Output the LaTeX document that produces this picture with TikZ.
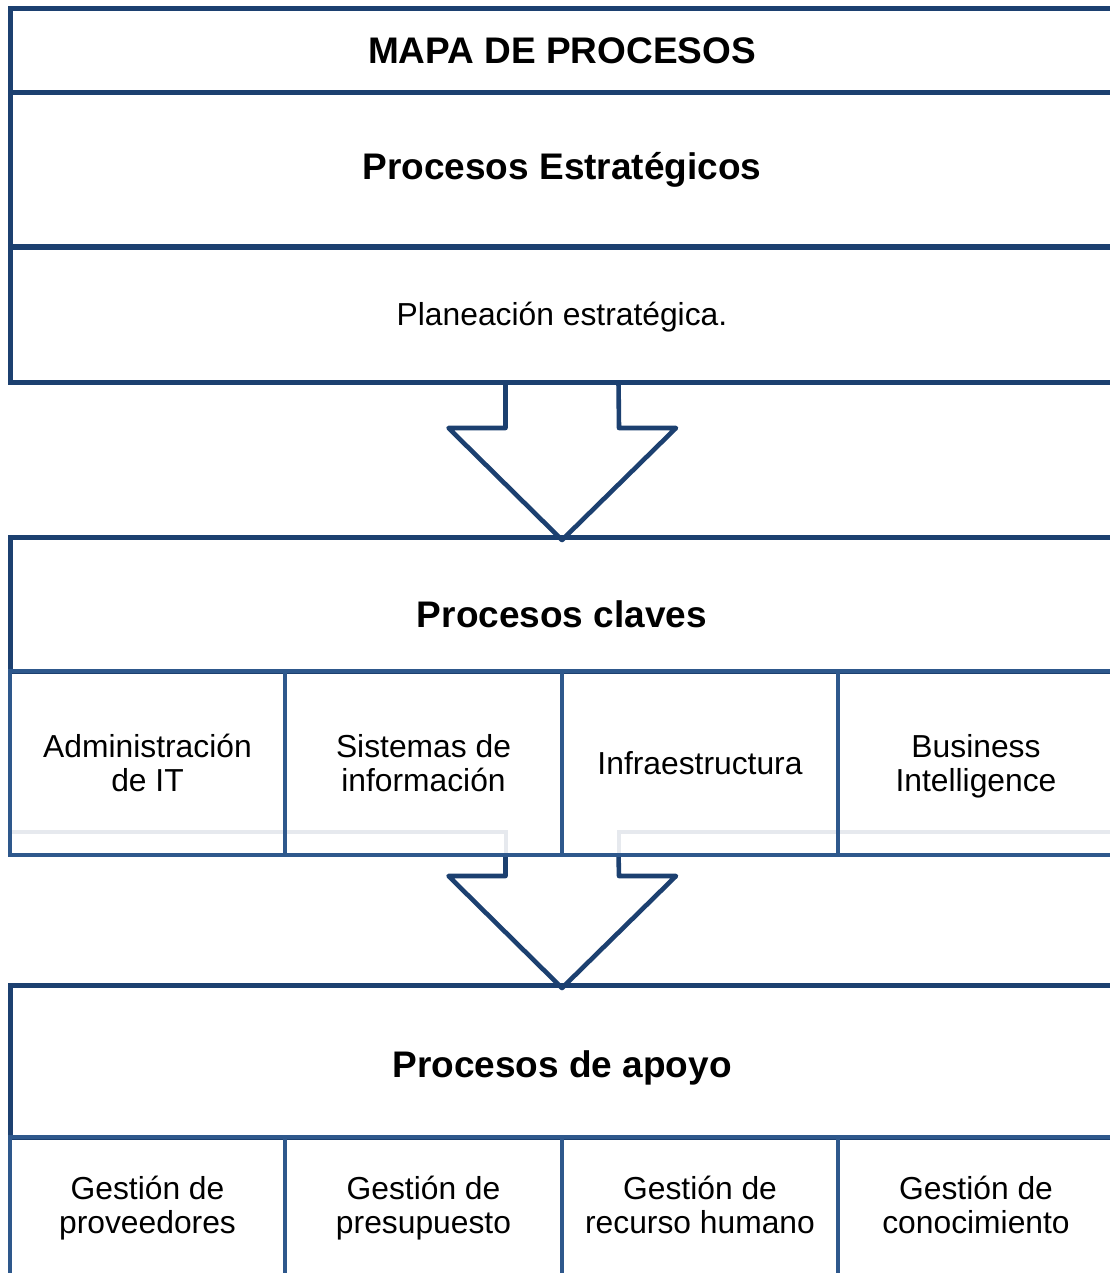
\documentclass[tikz,border=0pt]{standalone}
\usepackage{fontspec}
\setmainfont{Liberation Sans}
\usepackage{tikz}
\usetikzlibrary{positioning}
\definecolor{mapblue}{HTML}{1C4070}
\definecolor{cellblue}{HTML}{2E588C}
\definecolor{ghostgray}{HTML}{E6E9EE}

\begin{document}
\begin{tikzpicture}[x=0.5pt, y=-0.5pt,
    band/.style={rectangle, draw=mapblue, line width=2.5pt, minimum width=552pt, inner sep=0pt, outer sep=0pt, align=center, font=\fontsize{18.5}{22}\selectfont\bfseries},
    plain/.style={band, font=\fontsize{15.9}{17}\selectfont},
    cell/.style={rectangle, draw=cellblue, line width=2pt, minimum height=92pt, inner sep=0pt, outer sep=0pt, align=center, font=\fontsize{15.9}{17}\selectfont,
        execute at end node={\rule[-0.4pt]{0pt}{0.4pt}}},
    lowcell/.style={cell, minimum height=75pt, execute at end node={\rule[-7.5pt]{0pt}{7.5pt}}},
    blockarrow/.style={draw=mapblue, fill=white, line width=2.3pt, line join=round}
]
    \useasboundingbox (0,0) rectangle (1109,1273);

    % faint line behind the key processes
    \draw[ghostgray, line width=2pt] (10,832) -- (506,832) -- (506,855);
    \draw[ghostgray, line width=2pt] (619,855) -- (619,832) -- (1115,832);

    % block arrows (drawn first, the box lines go over them)
    \coordinate (stemA) at (562,382);
    \coordinate (tipA) at (562,540);
    \coordinate (stemB) at (562,855);
    \coordinate (tipB) at (562,988);
    \draw[blockarrow] ([xshift=-28.25pt]stemA) -- ++(0,46) -- ++(-57,0)
        -- (tipA) -- ++(114,-112) -- ++(-57,0) -- ([xshift=28.25pt]stemA);
    \draw[blockarrow] ([xshift=-28.25pt]stemB) -- ++(0,21) -- ++(-57,0)
        -- (tipB) -- ++(114,-112) -- ++(-57,0) -- ([xshift=28.25pt]stemB);

    \node[band, anchor=north west, minimum height=42pt] (title) at (10,9) {MAPA DE PROCESOS};
    \node[band, below=0pt of title, minimum height=77pt] (estrat) {Procesos Estratégicos};
    \node[plain, below=0pt of estrat, minimum height=67.5pt] (plan) {\raisebox{-1.5pt}[\height][\depth]{Planeación estratégica.}};

    \node[band, anchor=north west, minimum height=67pt] (claves) at (10,537) {\raisebox{-5pt}[\height][\depth]{Procesos claves}};
    \node[cell, anchor=north west, minimum width=137.5pt] (admin) at (claves.south west) {Administración\\de IT};
    \node[cell, right=0pt of admin, minimum width=138.5pt] (sis) {Sistemas de\\información};
    \node[cell, right=0pt of sis, minimum width=138pt] (infra) {Infraestructura};
    \node[cell, right=0pt of infra, minimum width=138pt] (bi) {Business\\\raisebox{0pt}[\height][0pt]{Intelligence}};

    \node[band, anchor=north west, minimum height=76pt] (apoyo) at (10,985) {\raisebox{-3.5pt}[\height][\depth]{Procesos de apoyo}};
    \node[lowcell, anchor=north west, minimum width=137.5pt] (prov) at (apoyo.south west) {Gestión de\\proveedores};
    \node[lowcell, right=0pt of prov, minimum width=138.5pt] (presu) {Gestión de\\presupuesto};
    \node[lowcell, right=0pt of presu, minimum width=138pt] (rrhh) {Gestión de\\recurso humano};
    \node[lowcell, right=0pt of rrhh, minimum width=138pt] (conoc) {Gestión de\\conocimiento};
\end{tikzpicture}
\end{document}
